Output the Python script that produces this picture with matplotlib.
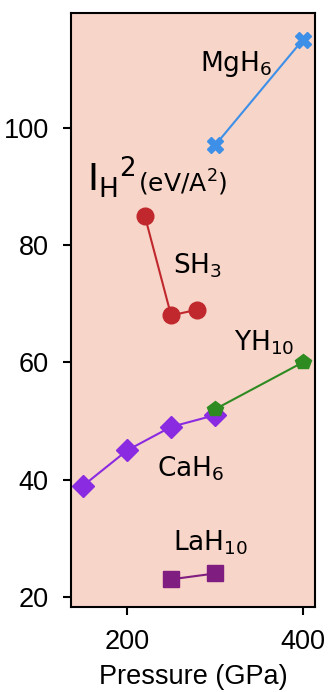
import matplotlib
matplotlib.use('Agg')
import matplotlib.pyplot as plt

# data
mgh6_p = [300, 400]
mgh6_i = [97, 115]
sh3_p = [220, 250, 280]
sh3_i = [85, 68, 69]
yh10_p = [300, 400]
yh10_i = [52, 60]
cah6_p = [150, 200, 250, 300]
cah6_i = [39, 45, 49, 51]
lah10_p = [250, 300]
lah10_i = [23, 24]

fig = plt.figure(figsize=(3.29, 6.92), dpi=100)
ax = fig.add_axes([0.216, 0.123, 0.7416, 0.8584])
ax.set_facecolor('#f7d5c8')

ax.plot(cah6_p, cah6_i, color='#8a2be2', marker='D', markersize=11.5, lw=1.5)
ax.plot(yh10_p, yh10_i, color='#2e8b22', marker='p', markersize=11.5, lw=1.5)
ax.plot(mgh6_p, mgh6_i, color='#3d8fe8', marker='X', markersize=12, lw=1.5)
ax.plot(sh3_p, sh3_i, color='#c0282d', marker='o', markersize=12, lw=1.5)
ax.plot(lah10_p, lah10_i, color='#801d80', marker='s', markersize=12, lw=1.5)

ax.set_xlim(136, 414)
ax.set_ylim(18.3, 119.6)
ax.set_xticks([200, 400])
ax.set_yticks([20, 40, 60, 80, 100])

tfont = {'family': 'Liberation Sans', 'size': 19.5}
ax.set_xticklabels(['200', '400'], fontdict=tfont)
ax.set_yticklabels(['20', '40', '60', '80', '100'], fontdict=tfont)
ax.tick_params(direction='out', length=6, width=1.5, pad=10)
for s in ax.spines.values():
    s.set_linewidth(1.5)
ax.set_xlabel('Pressure (GPa)', fontdict={'family': 'Liberation Sans', 'size': 19.5}, labelpad=6.5)

# labels
lab = dict(fontsize=19, ha='left', va='baseline')
ax.text(283, 109.7, 'MgH$_6$', **lab)
ax.text(252, 75.1, 'SH$_3$', **lab)
ax.text(322, 62.0, 'YH$_{10}$', **lab)
ax.text(234, 40.5, 'CaH$_6$', **lab)
ax.text(252, 28.0, 'LaH$_{10}$', **lab)

ax.text(154, 89.1, 'I$_\\mathregular{H}$$^2$', fontsize=27, ha='left', va='baseline')
ax.text(212, 89.1, '(eV/A$^2$)', fontsize=18, ha='left', va='baseline')

fig.savefig('out.png', dpi=100)
